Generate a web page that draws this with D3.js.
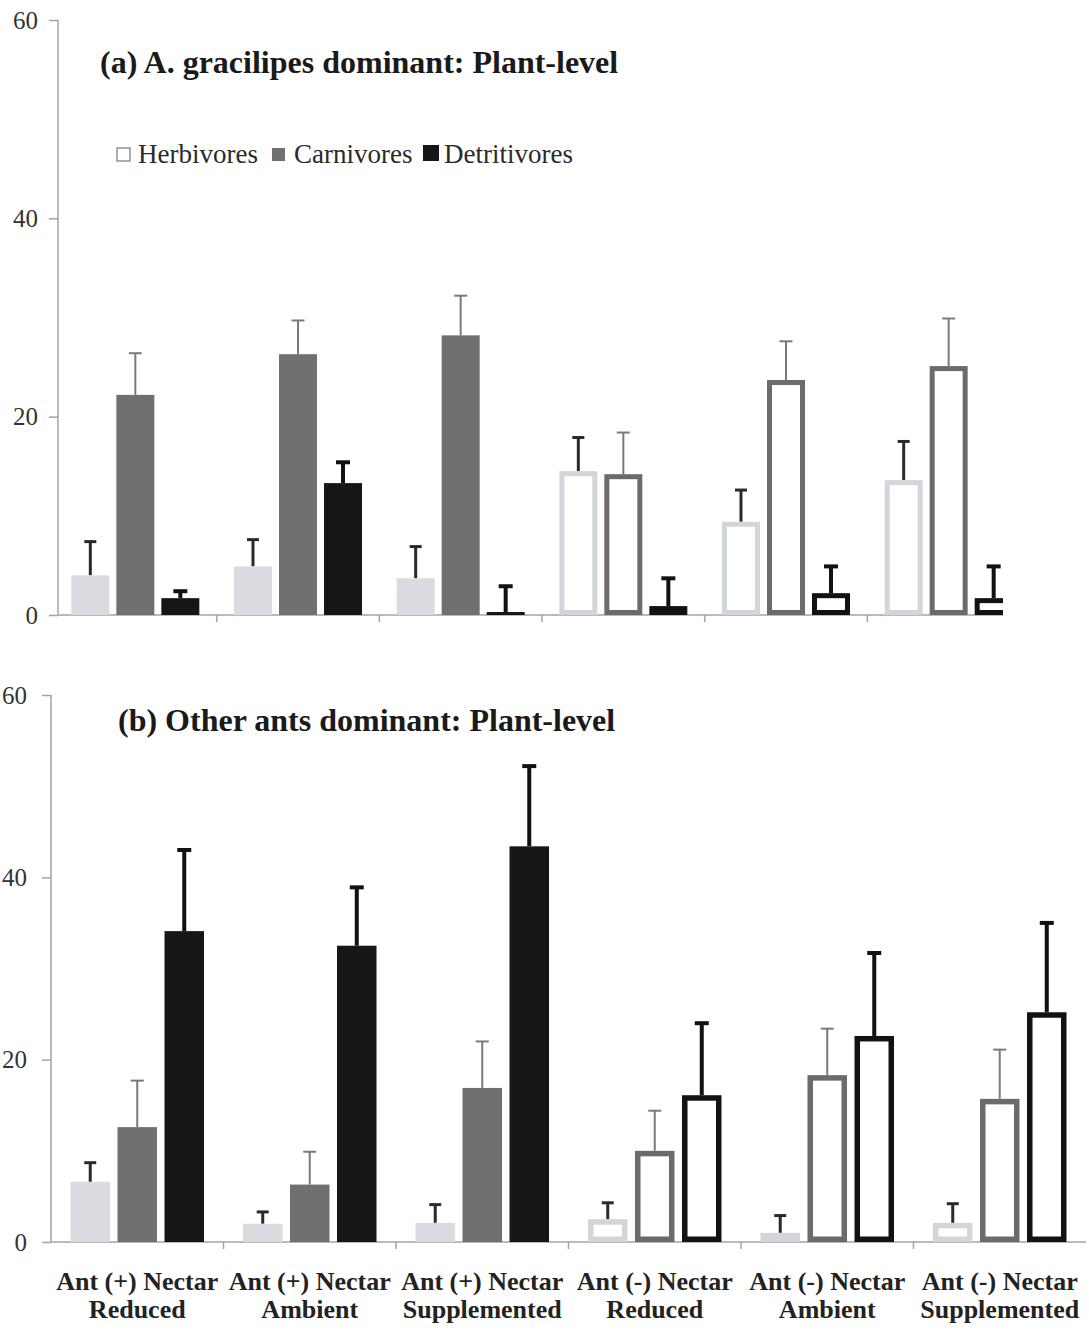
<!DOCTYPE html>
<html><head><meta charset="utf-8">
<script src="https://cdn.jsdelivr.net/npm/d3@7"></script>
<style>html,body{margin:0;padding:0;background:#fff;}svg{display:block;}</style>
</head><body>
<script>
// ---------- DATA ----------
const catLine1 = ["Ant (+) Nectar","Ant (+) Nectar","Ant (+) Nectar","Ant (-) Nectar","Ant (-) Nectar","Ant (-) Nectar"];
const catLine2 = ["Reduced","Ambient","Supplemented","Reduced","Ambient","Supplemented"];
const antPresent = [true,true,true,false,false,false];
const seriesNames = ["Herbivores","Carnivores","Detritivores"];
const yTicks = [0,20,40,60];

// Panel (a) A. gracilipes dominant
const aHerb   = [4.0, 4.9, 3.7, 14.5, 9.4, 13.6];
const aHerbSE = [3.4, 2.7, 3.2, 3.4, 3.2, 3.9];
const aCarn   = [22.2, 26.3, 28.2, 14.2, 23.7, 25.1];
const aCarnSE = [4.2, 3.4, 4.0, 4.2, 3.9, 4.8];
const aDetr   = [1.7, 13.3, 0.3, 0.9, 2.2, 1.7];
const aDetrSE = [0.7, 2.1, 2.6, 2.8, 2.7, 3.2];

// Panel (b) Other ants dominant
const bHerb   = [6.6, 2.0, 2.1, 2.5, 1.0, 2.1];
const bHerbSE = [2.1, 1.3, 2.0, 1.8, 1.9, 2.1];
const bCarn   = [12.6, 6.3, 16.9, 10.0, 18.3, 15.7];
const bCarnSE = [5.1, 3.6, 5.1, 4.4, 5.1, 5.4];
const bDetr   = [34.1, 32.5, 43.4, 16.1, 22.6, 25.2];
const bDetrSE = [8.9, 6.4, 8.8, 7.9, 9.1, 9.8];

// ---------- STYLE ----------
const fillCol  = {Herbivores:"#d9dbe0", Carnivores:"#707070", Detritivores:"#161616"};
const strokeCol= {Herbivores:"#d2d5db", Carnivores:"#6b6b6b", Detritivores:"#121212"};
const errCol   = {Herbivores:"#2a2a2a", Carnivores:"#7a7a7a", Detritivores:"#111"};
const errW     = {Herbivores:3, Carnivores:2, Detritivores:4};
const capW     = {Herbivores:12, Carnivores:13, Detritivores:14};
const serif = "'Liberation Serif','Times New Roman',serif";

const W = 1089, H = 1331;
const svg = d3.select("body").append("svg").attr("width", W).attr("height", H);
svg.append("rect").attr("width",W).attr("height",H).attr("fill","#fff");

const cats = catLine1.map((d,i)=>d+" "+catLine2[i]);

function panel(cfg){
  const g = svg.append("g");
  if (cfg.clip){
    svg.append("clipPath").attr("id",cfg.id).append("rect")
      .attr("x",0).attr("y",cfg.y1-30).attr("width",cfg.clip).attr("height",cfg.y0-cfg.y1+60);
    g.attr("clip-path","url(#"+cfg.id+")");
  }
  const x = d3.scaleBand().domain(cats).range([cfg.x0, cfg.x1]);
  const xi = d3.scaleBand().domain(seriesNames).range([-cfg.half, cfg.half]).paddingInner(cfg.pad);
  const y = d3.scaleLinear().domain([0,60]).range([cfg.y0, cfg.y1]);

  // axes
  const ya = d3.axisLeft(y).tickValues(yTicks).tickSize(9).tickPadding(cfg.tickPad).tickFormat(d3.format("d"));
  const yg = g.append("g").attr("transform","translate("+cfg.ax+",0)").call(ya);
  yg.select(".domain").attr("stroke","#a3a3a3").attr("stroke-width",1.5).attr("d","M0,"+cfg.y1+"V"+cfg.y0);
  yg.selectAll(".tick line").attr("stroke","#a3a3a3").attr("stroke-width",1.5);
  yg.selectAll(".tick text").attr("font-family",serif).attr("font-size",25).attr("fill","#333");

  g.append("line").attr("x1",cfg.ax).attr("x2",cfg.x1).attr("y1",y(0)).attr("y2",y(0))
    .attr("stroke","#a3a3a3").attr("stroke-width",1.5);
  g.selectAll(".xt").data(cats.slice(1)).enter().append("line")
    .attr("x1",d=>x(d)).attr("x2",d=>x(d)).attr("y1",y(0)).attr("y2",y(0)+7)
    .attr("stroke","#a3a3a3").attr("stroke-width",1.5);

  // bars
  const rows = [];
  cats.forEach((c,i)=>{
    seriesNames.forEach((s,j)=>{
      rows.push({c, s, v: cfg.vals[j][i], se: cfg.ses[j][i], filled: antPresent[i]});
    });
  });
  const bw = xi.bandwidth();
  const sw = cfg.sw;
  rows.forEach(r=>{
    const bx = x(r.c) + x.bandwidth()/2 + xi(r.s);
    const top = y(r.v), bot = y(0);
    // error bar
    const cx = bx + bw/2;
    const ey = y(r.v + r.se);
    g.append("line").attr("x1",cx).attr("x2",cx).attr("y1",top).attr("y2",ey)
      .attr("stroke",errCol[r.s]).attr("stroke-width",errW[r.s]);
    g.append("line").attr("x1",cx-capW[r.s]/2).attr("x2",cx+capW[r.s]/2).attr("y1",ey).attr("y2",ey)
      .attr("stroke",errCol[r.s]).attr("stroke-width",errW[r.s]);
    if (r.filled){
      g.append("rect").attr("x",bx).attr("y",top).attr("width",bw).attr("height",bot-top)
        .attr("fill",fillCol[r.s]);
    } else {
      const h = Math.max(0, bot-top-sw);
      g.append("rect").attr("x",bx+sw/2).attr("y",top+sw/2).attr("width",bw-sw).attr("height",h)
        .attr("fill","#fff").attr("stroke",strokeCol[r.s]).attr("stroke-width",sw);
    }
  });

  // title
  g.append("text").attr("x",cfg.tx).attr("y",cfg.ty).attr("font-family",serif)
    .attr("font-weight","bold").attr("font-size",32).attr("fill","#1a1a1a").text(cfg.title);

  if (cfg.labels){
    cats.forEach((c,i)=>{
      const t = g.append("text").attr("x",x(c)+x.bandwidth()/2).attr("text-anchor","middle")
        .attr("font-family",serif).attr("font-weight","bold").attr("font-size",26).attr("fill","#222");
      t.append("tspan").attr("x",x(c)+x.bandwidth()/2).attr("y",1290).text(catLine1[i]);
      t.append("tspan").attr("x",x(c)+x.bandwidth()/2).attr("y",1318).text(catLine2[i]);
    });
  }
  return g;
}

panel({id:"clipA", clip:1003, x0:54, x1:1030, half:64, pad:0.156, sw:5,
  y0:615, y1:20, ax:58, tickPad:11,
  vals:[aHerb,aCarn,aDetr], ses:[aHerbSE,aCarnSE,aDetrSE],
  title:"(a) A. gracilipes dominant: Plant-level", tx:100, ty:73, labels:false});

panel({id:"clipB", clip:null, x0:51, x1:1086, half:66.75, pad:0.16, sw:5.5,
  y0:1242, y1:695, ax:51, tickPad:15,
  vals:[bHerb,bCarn,bDetr], ses:[bHerbSE,bCarnSE,bDetrSE],
  title:"(b) Other ants dominant: Plant-level", tx:118, ty:731, labels:true});

// legend
const leg = svg.append("g");
const legX = [117, 272, 423];
const legTX = [138, 294, 444];
seriesNames.forEach((s,i)=>{
  const sz = i===2 ? 16 : 13;
  leg.append("rect").attr("x",legX[i]).attr("y",161-sz).attr("width",sz).attr("height",sz)
    .attr("fill", i===0 ? "#fff" : fillCol[s])
    .attr("stroke", i===0 ? "#777" : "none").attr("stroke-width",1.2);
  leg.append("text").attr("x",legTX[i]).attr("y",163).attr("font-family",serif)
    .attr("font-size",27).attr("fill","#2a2a2a").text(s);
});
</script>
</body></html>
